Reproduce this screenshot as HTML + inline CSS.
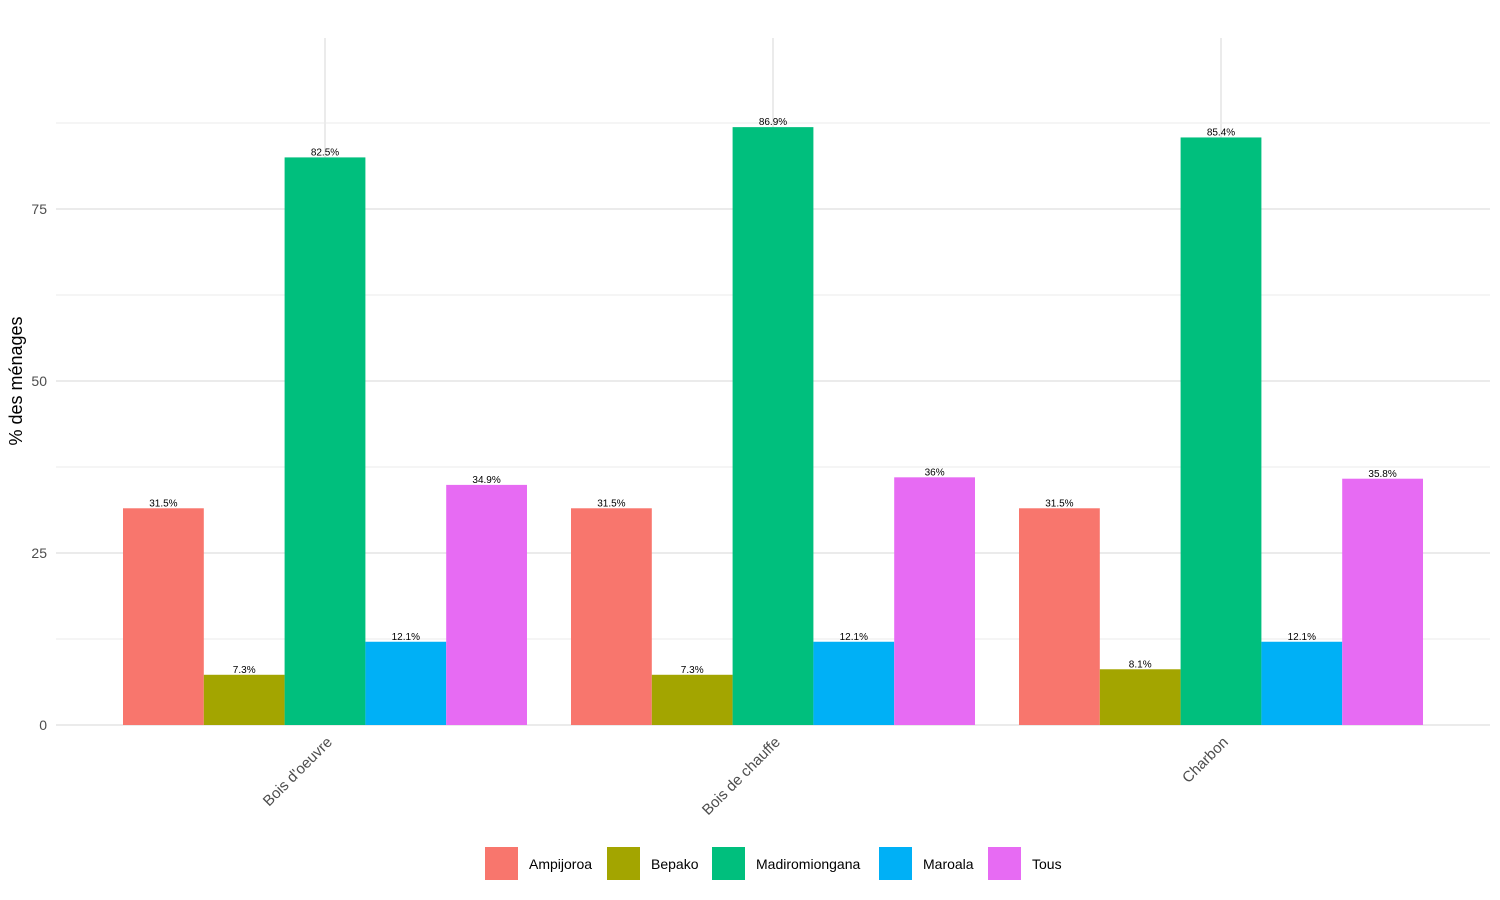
<!DOCTYPE html>
<html><head><meta charset="utf-8"><style>
html,body{margin:0;padding:0;background:#fff;}
svg{display:block;font-family:"Liberation Sans",Arial,sans-serif;}
</style></head><body>
<svg width="1500" height="900" viewBox="0 0 1500 900" xmlns="http://www.w3.org/2000/svg">
<rect width="1500" height="900" fill="#fff"/>
<g stroke="#ebebeb" stroke-width="1">
<line x1="56" x2="1490" y1="639" y2="639"/>
<line x1="56" x2="1490" y1="467" y2="467"/>
<line x1="56" x2="1490" y1="295" y2="295"/>
<line x1="56" x2="1490" y1="123" y2="123"/>
</g>
<g stroke="#ebebeb" stroke-width="2">
<line x1="56" x2="1490" y1="725" y2="725"/>
<line x1="56" x2="1490" y1="553" y2="553"/>
<line x1="56" x2="1490" y1="381" y2="381"/>
<line x1="56" x2="1490" y1="209" y2="209"/>
<line x1="325" x2="325" y1="38" y2="725"/>
<line x1="773" x2="773" y1="38" y2="725"/>
<line x1="1221" x2="1221" y1="38" y2="725"/>
</g>
<g>
<rect x="123" y="508.28" width="80.8" height="216.72" fill="#F8766D"/>
<rect x="203.8" y="674.78" width="80.8" height="50.22" fill="#A3A500"/>
<rect x="284.6" y="157.4" width="80.8" height="567.6" fill="#00BF7D"/>
<rect x="365.4" y="641.75" width="80.8" height="83.25" fill="#00B0F6"/>
<rect x="446.2" y="484.89" width="80.8" height="240.11" fill="#E76BF3"/>
<rect x="571" y="508.28" width="80.8" height="216.72" fill="#F8766D"/>
<rect x="651.8" y="674.78" width="80.8" height="50.22" fill="#A3A500"/>
<rect x="732.6" y="127.13" width="80.8" height="597.87" fill="#00BF7D"/>
<rect x="813.4" y="641.75" width="80.8" height="83.25" fill="#00B0F6"/>
<rect x="894.2" y="477.32" width="80.8" height="247.68" fill="#E76BF3"/>
<rect x="1019" y="508.28" width="80.8" height="216.72" fill="#F8766D"/>
<rect x="1099.8" y="669.27" width="80.8" height="55.73" fill="#A3A500"/>
<rect x="1180.6" y="137.45" width="80.8" height="587.55" fill="#00BF7D"/>
<rect x="1261.4" y="641.75" width="80.8" height="83.25" fill="#00B0F6"/>
<rect x="1342.2" y="478.7" width="80.8" height="246.3" fill="#E76BF3"/>
</g>
<g font-size="10" text-anchor="middle" fill="#000">
<text x="163.4" y="506.5">31.5%</text>
<text x="244.2" y="673">7.3%</text>
<text x="325" y="155.5">82.5%</text>
<text x="405.8" y="640">12.1%</text>
<text x="486.6" y="483">34.9%</text>
<text x="611.4" y="506.5">31.5%</text>
<text x="692.2" y="673">7.3%</text>
<text x="773" y="125">86.9%</text>
<text x="853.8" y="640">12.1%</text>
<text x="934.6" y="475.5">36%</text>
<text x="1059.4" y="506.5">31.5%</text>
<text x="1140.2" y="667.5">8.1%</text>
<text x="1221" y="135.5">85.4%</text>
<text x="1301.8" y="640">12.1%</text>
<text x="1382.6" y="477">35.8%</text>
</g>
<g font-size="14" fill="#4d4d4d" text-anchor="end">
<text x="47" y="730">0</text>
<text x="47" y="558">25</text>
<text x="47" y="386">50</text>
<text x="47" y="214">75</text>
</g>
<text transform="translate(22,381) rotate(-90)" text-anchor="middle" font-size="18" fill="#000">% des ménages</text>
<g font-size="15" fill="#4d4d4d" text-anchor="end">
<text transform="translate(333,743) rotate(-45)">Bois d'oeuvre</text>
<text transform="translate(781,743) rotate(-45)">Bois de chauffe</text>
<text transform="translate(1229,743) rotate(-45)">Charbon</text>
</g>
<g font-size="14" fill="#000">
<rect x="485" y="847" width="33" height="33" fill="#F8766D"/><text x="529" y="869">Ampijoroa</text>
<rect x="607" y="847" width="33" height="33" fill="#A3A500"/><text x="651" y="869">Bepako</text>
<rect x="712" y="847" width="33" height="33" fill="#00BF7D"/><text x="756" y="869">Madiromiongana</text>
<rect x="879" y="847" width="33" height="33" fill="#00B0F6"/><text x="923" y="869">Maroala</text>
<rect x="988" y="847" width="33" height="33" fill="#E76BF3"/><text x="1032" y="869">Tous</text>
</g>
</svg>
</body></html>
